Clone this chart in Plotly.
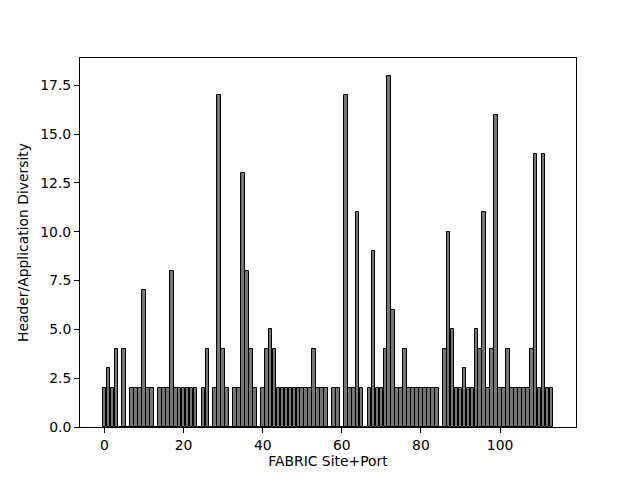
import plotly.graph_objects as go

site_port = list(range(114))
diversity = [
    2, 3, 2, 4, 0, 4, 0, 2, 2, 2,      # 0-9
    7, 2, 2, 0, 2, 2, 2, 8, 2, 2,      # 10-19
    2, 2, 2, 2, 0, 2, 4, 0, 2, 17,     # 20-29
    4, 2, 0, 2, 2, 13, 8, 4, 2, 0,     # 30-39
    2, 4, 5, 4, 2, 2, 2, 2, 2, 2,      # 40-49
    2, 2, 2, 4, 2, 2, 2, 0, 2, 2,      # 50-59
    0, 17, 2, 2, 11, 2, 0, 2, 9, 2,    # 60-69
    2, 4, 18, 6, 2, 2, 4, 2, 2, 2,     # 70-79
    2, 2, 2, 2, 2, 0, 4, 10, 5, 2,     # 80-89
    2, 3, 2, 2, 5, 4, 11, 2, 4, 16,    # 90-99
    2, 2, 4, 2, 2, 2, 2, 2, 4, 14,     # 100-109
    2, 14, 2, 2,                       # 110-113
]
x_ticks = [0, 20, 40, 60, 80, 100]
y_ticks = [0.0, 2.5, 5.0, 7.5, 10.0, 12.5, 15.0, 17.5]

fig = go.Figure(
    go.Bar(
        x=site_port,
        y=diversity,
        width=0.92,
        marker=dict(color="#767676", line=dict(color="black", width=1)),
    )
)

font = dict(family="DejaVu Sans", size=13.9, color="black")
fig.update_layout(
    width=632,
    height=472,
    margin=dict(l=72, r=64, t=50, b=53),
    plot_bgcolor="white",
    paper_bgcolor="white",
    font=font,
    showlegend=False,
    bargap=0,
)
fig.update_xaxes(
    automargin=False,
    range=[-6.2, 119.2],
    tickmode="array",
    tickvals=x_ticks,
    ticktext=[str(v) for v in x_ticks],
    ticks="outside",
    ticklen=5,
    tickcolor="black",
    showline=True,
    linecolor="black",
    linewidth=1,
    mirror=True,
    showgrid=False,
    zeroline=False,
    title=dict(text="FABRIC Site+Port", font=font, standoff=4),
)
fig.update_yaxes(
    automargin=False,
    range=[0, 18.9],
    tickmode="array",
    tickvals=y_ticks,
    ticktext=[f"{v:.1f}" for v in y_ticks],
    ticks="outside",
    ticklen=5,
    tickcolor="black",
    showline=True,
    linecolor="black",
    linewidth=1,
    mirror=True,
    showgrid=False,
    zeroline=False,
    title=dict(text="Header/Application Diversity", font=font, standoff=8),
)

fig.write_html("out.html")
